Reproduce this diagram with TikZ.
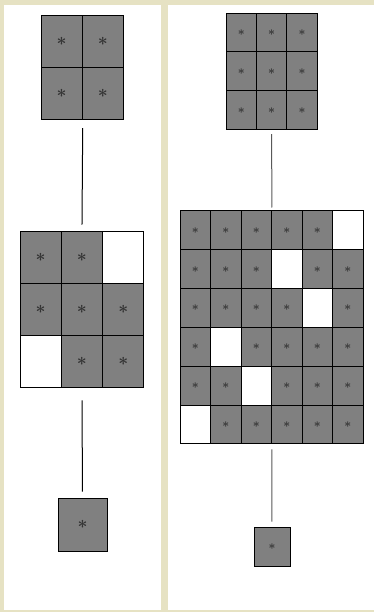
\documentclass[tikz,border=0pt]{standalone}
\usepackage{xcolor}
\usepackage{bm}
\usepackage{tikz}
\definecolor{panelbg}{HTML}{E6E2C3}
\definecolor{cellgray}{HTML}{808080}
\definecolor{stargray}{HTML}{333333}
\newcommand{\cellstar}[1]{\raisebox{#1}{$\bm{\ast}$}}

\begin{document}
\begin{tikzpicture}[x=1pt, y=-1pt,
    cell/.style={draw=black, line width=0.9pt, inner sep=0pt, text=stargray},
    cell1/.style={cell, fill=cellgray},
    cell0/.style={cell, fill=white},
    bigcell/.style={minimum width=41.3pt, minimum height=52.3pt, font=\LARGE},
    smallcell/.style={minimum width=30.4pt, minimum height=38.9pt, font=\large},
    link/.style={line width=1pt}]
    \useasboundingbox (0,0) rectangle (374,612);
    \fill[panelbg] (0,0) rectangle (374,612);
    \fill[white] (4,5) rectangle (161,610);
    \fill[white] (168,5) rectangle (374,610);
    \foreach \row [count=\r] in {{1,1},{1,1}}
        \foreach \v [count=\c] in \row
            \node[cell\v, bigcell] (la-\r-\c) at ({41+(\c-0.5)*41.3}, {15+(\r-0.5)*52.3}) {\ifnum\v=1 \cellstar{-4pt}\fi};
    \foreach \row [count=\r] in {{1,1,0},{1,1,1},{0,1,1}}
        \foreach \v [count=\c] in \row
            \node[cell\v, bigcell] (lb-\r-\c) at ({20+(\c-0.5)*41.3}, {231+(\r-0.5)*52.3}) {\ifnum\v=1 \cellstar{-4pt}\fi};
    \node[cell1, bigcell, minimum width=49pt, minimum height=53pt] (lc) at (82.5,524.5) {\cellstar{-2pt}};
    \foreach \row [count=\r] in {{1,1,1},{1,1,1},{1,1,1}}
        \foreach \v [count=\c] in \row
            \node[cell\v, smallcell] (ra-\r-\c) at ({226+(\c-0.5)*30.4}, {13+(\r-0.5)*38.9}) {\ifnum\v=1 \cellstar{-3pt}\fi};
    \foreach \row [count=\r] in {{1,1,1,1,1,0},{1,1,1,0,1,1},{1,1,1,1,0,1},{1,0,1,1,1,1},{1,1,0,1,1,1},{0,1,1,1,1,1}}
        \foreach \v [count=\c] in \row
            \node[cell\v, smallcell] (rb-\r-\c) at ({180+(\c-0.5)*30.5}, {211+(\r-0.5)*38.8}) {\ifnum\v=1 \cellstar{-2pt}\fi};
    \node[cell1, smallcell, minimum width=36pt, minimum height=39pt] (rc) at (272,546.5) {\cellstar{-3pt}};
    \draw[link, shorten <=8pt, shorten >=6pt] (la-2-1.south east) -- (lb-1-2.north);
    \draw[link, shorten <=12pt, shorten >=6pt] (lb-3-2.south) -- (lc.north);
    \draw[link, draw=gray!70!black, shorten <=4pt, shorten >=3pt] (ra-3-2.south) -- (rb-1-3.north east);
    \draw[link, draw=gray!70!black, shorten <=5pt, shorten >=5pt] (rb-6-3.south east) -- (rc.north);
\end{tikzpicture}
\end{document}
